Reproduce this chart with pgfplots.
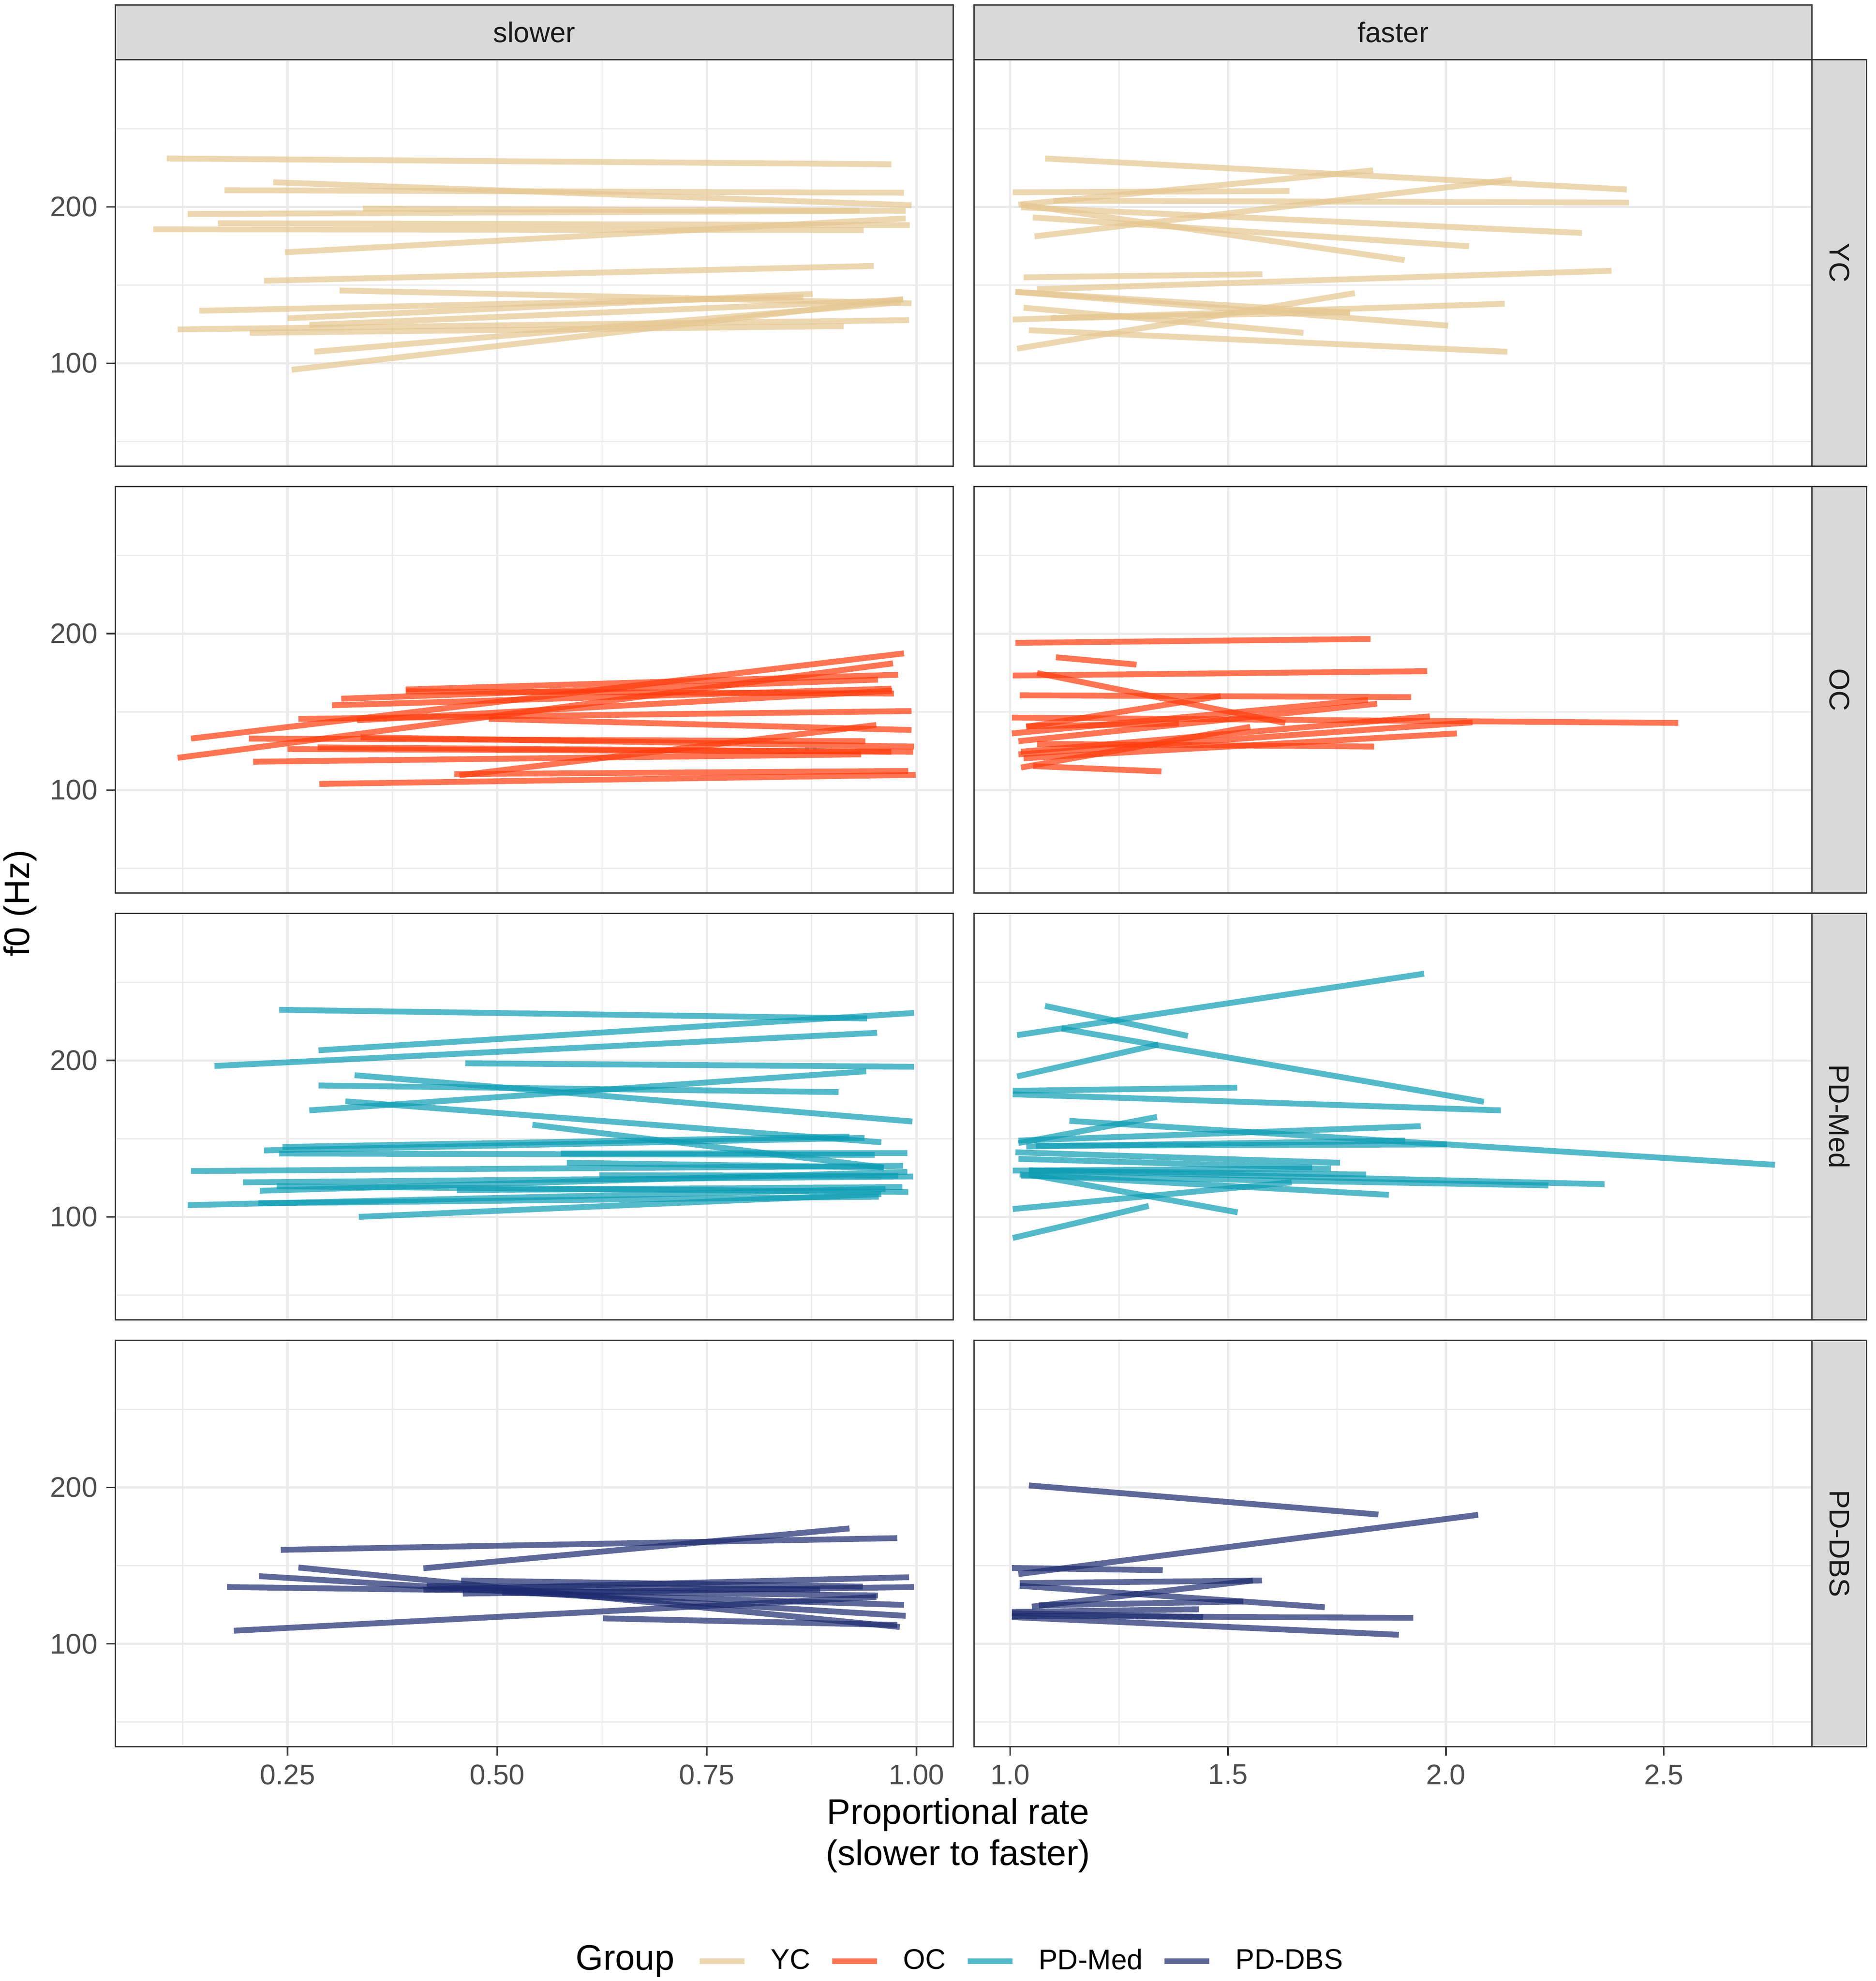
\documentclass[border=0pt]{standalone}
\usepackage{pgfplots}
\pgfplotsset{compat=1.18}
\usepackage{fontspec}
\setmainfont{Liberation Sans}
\definecolor{ycc}{HTML}{E5C690}
\definecolor{occ}{HTML}{FF3A0A}
\definecolor{pmc}{HTML}{0B9CB4}
\definecolor{pdc}{HTML}{1B2A6E}
\definecolor{gridc}{HTML}{EBEBEB}
\definecolor{framec}{HTML}{333333}
\definecolor{stripc}{HTML}{D9D9D9}
\definecolor{tickc}{HTML}{4D4D4D}
\definecolor{stript}{HTML}{1A1A1A}
\newcommand\seg[5]{\addplot[#1] coordinates {(#2,#3) (#4,#5)};}
\pgfplotsset{
  yc/.style={color=ycc, draw opacity=0.7, line width=2.3pt, no marks},
  oc/.style={color=occ, draw opacity=0.7, line width=2.3pt, no marks},
  pm/.style={color=pmc, draw opacity=0.7, line width=2.3pt, no marks},
  pd/.style={color=pdc, draw opacity=0.7, line width=2.3pt, no marks},
  panel/.style={scale only axis, width=330.6pt, height=160.4pt, anchor=south west,
    ymin=34.2, ymax=294.1, ytick={100,200}, minor ytick={50,150,250},
    yticklabels={100,200},
    /pgf/number format/assume math mode=true,
    grid=both,
    major grid style={color=gridc, line width=0.9pt},
    minor grid style={color=gridc, line width=0.45pt},
    axis line style={color=framec, line width=0.6pt},
    tick align=outside, major tick length=3.5pt, minor tick length=0pt,
    tick style={color=framec, line width=0.6pt},
    xtick pos=bottom, ytick pos=left,
    tick label style={font=\fontsize{11.2}{13}\selectfont, text=tickc},
    clip=true},
  leftcol/.style={xmin=0.0447, xmax=1.0438, xtick={0.25,0.5,0.75,1.0},
    minor xtick={0.125,0.375,0.625,0.875}, xticklabels={0.25,0.50,0.75,1.00}},
  rightcol/.style={xmin=0.9172, xmax=2.840, xtick={1,1.5,2,2.5},
    minor xtick={1.25,1.75,2.25,2.75}, xticklabels={1.0,1.5,2.0,2.5}},
  nox/.style={xticklabels={}, xtick style={draw=none}},
  noy/.style={yticklabels={}, ytick style={draw=none}},
}
\begin{document}
\begin{tikzpicture}[x=1pt,y=1pt]
\useasboundingbox (0,0) rectangle (740,781.8);
% ---------------- Row 1: YC
\begin{axis}[panel, leftcol, nox, at={(45.5pt,597.85pt)}]
\seg{yc}{0.106}{230.9}{0.970}{227.2}
\seg{yc}{0.175}{210.6}{0.985}{209.0}
\seg{yc}{0.233}{215.7}{0.994}{201.0}
\seg{yc}{0.131}{195.4}{0.987}{197.5}
\seg{yc}{0.340}{198.8}{0.932}{197.5}
\seg{yc}{0.167}{189.5}{0.992}{188.3}
\seg{yc}{0.090}{185.6}{0.937}{185.1}
\seg{yc}{0.247}{170.9}{0.987}{192.6}
\seg{yc}{0.222}{152.7}{0.949}{162.2}
\seg{yc}{0.312}{146.5}{0.994}{138.3}
\seg{yc}{0.145}{133.5}{0.865}{142.2}
\seg{yc}{0.250}{128.7}{0.876}{144.3}
\seg{yc}{0.119}{121.6}{0.991}{127.5}
\seg{yc}{0.205}{119.4}{0.913}{123.7}
\seg{yc}{0.276}{124.5}{0.984}{140.5}
\seg{yc}{0.282}{107.3}{0.981}{138.9}
\seg{yc}{0.255}{95.8}{0.984}{141.0}
\end{axis}
\begin{axis}[panel, rightcol, nox, noy, at={(384.3pt,597.85pt)}]
\seg{yc}{1.080}{230.9}{2.415}{211.1}
\seg{yc}{1.006}{209.3}{1.641}{210.1}
\seg{yc}{1.099}{203.9}{2.420}{202.7}
\seg{yc}{1.019}{201.4}{1.833}{223.3}
\seg{yc}{1.056}{181.1}{2.151}{217.4}
\seg{yc}{1.025}{199.7}{2.312}{183.3}
\seg{yc}{1.052}{193.2}{2.053}{174.8}
\seg{yc}{1.025}{201.4}{1.905}{165.9}
\seg{yc}{1.031}{154.9}{1.579}{156.9}
\seg{yc}{1.062}{147.3}{2.380}{159.1}
\seg{yc}{1.012}{145.6}{2.005}{124.0}
\seg{yc}{1.031}{135.5}{1.673}{119.4}
\seg{yc}{1.006}{127.9}{2.135}{138.0}
\seg{yc}{1.093}{128.7}{1.780}{132.6}
\seg{yc}{1.043}{121.1}{2.141}{107.3}
\seg{yc}{1.016}{109.3}{1.791}{144.8}
\seg{yc}{1.012}{145.6}{1.780}{132.1}
\end{axis}
% ---------------- Row 2: OC
\begin{axis}[panel, leftcol, nox, at={(45.5pt,429.4pt)}]
\seg{oc}{0.135}{132.9}{0.985}{187.4}
\seg{oc}{0.119}{120.6}{0.972}{181.0}
\seg{oc}{0.391}{164.3}{0.978}{173.7}
\seg{oc}{0.314}{158.4}{0.954}{170.6}
\seg{oc}{0.303}{154.2}{0.970}{164.8}
\seg{oc}{0.391}{163.1}{0.973}{161.7}
\seg{oc}{0.263}{145.5}{0.994}{150.5}
\seg{oc}{0.333}{144.6}{0.971}{163.5}
\seg{oc}{0.490}{145.5}{0.994}{138.4}
\seg{oc}{0.204}{132.9}{0.939}{131.2}
\seg{oc}{0.337}{133.7}{0.997}{127.8}
\seg{oc}{0.250}{126.2}{0.996}{124.5}
\seg{oc}{0.286}{127.3}{0.970}{124.5}
\seg{oc}{0.209}{118.1}{0.934}{122.8}
\seg{oc}{0.455}{109.4}{0.952}{141.6}
\seg{oc}{0.449}{110.2}{0.990}{112.2}
\seg{oc}{0.288}{103.9}{0.999}{109.7}
\end{axis}
\begin{axis}[panel, rightcol, nox, noy, at={(384.3pt,429.4pt)}]
\seg{oc}{1.012}{194.1}{1.827}{196.6}
\seg{oc}{1.105}{184.9}{1.290}{180.2}
\seg{oc}{1.006}{173.2}{1.957}{176.0}
\seg{oc}{1.062}{174.8}{1.631}{142.9}
\seg{oc}{1.022}{160.6}{1.920}{159.4}
\seg{oc}{1.004}{146.3}{2.533}{142.9}
\seg{oc}{1.037}{140.4}{1.483}{160.1}
\seg{oc}{1.004}{136.2}{1.821}{157.7}
\seg{oc}{1.019}{131.2}{1.842}{155.2}
\seg{oc}{1.025}{124.5}{1.963}{147.1}
\seg{oc}{1.019}{122.8}{2.061}{143.3}
\seg{oc}{1.031}{120.3}{2.025}{136.2}
\seg{oc}{1.062}{129.5}{1.835}{127.8}
\seg{oc}{1.025}{114.4}{1.551}{140.4}
\seg{oc}{1.053}{115.3}{1.347}{111.9}
\seg{oc}{1.037}{140.8}{1.387}{142.5}
\end{axis}
% ---------------- Row 3: PD-Med
\begin{axis}[panel, leftcol, nox, at={(45.5pt,260.95pt)}]
\seg{pm}{0.240}{232.4}{0.941}{226.9}
\seg{pm}{0.287}{206.5}{0.997}{230.4}
\seg{pm}{0.163}{196.5}{0.953}{217.7}
\seg{pm}{0.462}{198.2}{0.997}{196.0}
\seg{pm}{0.330}{190.6}{0.995}{161.0}
\seg{pm}{0.287}{184.0}{0.907}{179.8}
\seg{pm}{0.276}{168.1}{0.940}{193.1}
\seg{pm}{0.319}{173.9}{0.958}{147.7}
\seg{pm}{0.542}{158.9}{0.961}{131.6}
\seg{pm}{0.222}{142.5}{0.938}{150.5}
\seg{pm}{0.244}{144.7}{0.920}{151.3}
\seg{pm}{0.240}{140.5}{0.950}{139.6}
\seg{pm}{0.576}{140.5}{0.989}{140.8}
\seg{pm}{0.583}{134.6}{0.961}{131.6}
\seg{pm}{0.135}{129.3}{0.984}{132.6}
\seg{pm}{0.622}{126.6}{0.978}{126.3}
\seg{pm}{0.197}{122.1}{0.996}{125.8}
\seg{pm}{0.217}{116.7}{0.989}{128.8}
\seg{pm}{0.452}{117.1}{0.983}{119.1}
\seg{pm}{0.237}{119.6}{0.990}{115.9}
\seg{pm}{0.131}{107.5}{0.963}{117.9}
\seg{pm}{0.215}{108.7}{0.955}{112.9}
\seg{pm}{0.335}{100.0}{0.958}{114.6}
\end{axis}
\begin{axis}[panel, rightcol, nox, noy, at={(384.3pt,260.95pt)}]
\seg{pm}{1.016}{216.2}{1.950}{255.5}
\seg{pm}{1.080}{234.9}{1.408}{215.7}
\seg{pm}{1.118}{220.4}{2.087}{173.6}
\seg{pm}{1.016}{189.8}{1.340}{210.2}
\seg{pm}{1.006}{180.6}{1.521}{182.6}
\seg{pm}{1.006}{178.4}{2.126}{168.1}
\seg{pm}{1.136}{161.4}{2.755}{133.3}
\seg{pm}{1.019}{147.2}{1.337}{163.9}
\seg{pm}{1.019}{148.8}{1.942}{158.0}
\seg{pm}{1.037}{145.0}{1.906}{148.8}
\seg{pm}{1.059}{145.5}{2.002}{146.3}
\seg{pm}{1.012}{141.3}{1.757}{134.6}
\seg{pm}{1.019}{137.1}{1.693}{131.6}
\seg{pm}{1.006}{129.6}{1.736}{131.0}
\seg{pm}{1.043}{129.6}{1.817}{127.1}
\seg{pm}{1.025}{126.3}{2.235}{120.1}
\seg{pm}{1.043}{129.8}{2.364}{120.9}
\seg{pm}{1.022}{127.1}{1.869}{114.1}
\seg{pm}{1.043}{127.1}{1.522}{102.9}
\seg{pm}{1.006}{105.0}{1.646}{122.1}
\seg{pm}{1.006}{86.5}{1.318}{107.0}
\end{axis}
% ---------------- Row 4: PD-DBS
\begin{axis}[panel, leftcol, at={(45.5pt,92.45pt)}]
\seg{pd}{0.242}{160.1}{0.977}{167.6}
\seg{pd}{0.412}{148.3}{0.920}{173.8}
\seg{pd}{0.263}{148.8}{0.980}{110.8}
\seg{pd}{0.216}{143.3}{0.987}{117.9}
\seg{pd}{0.178}{136.3}{0.954}{130.9}
\seg{pd}{0.412}{134.6}{0.991}{142.6}
\seg{pd}{0.457}{140.5}{0.936}{136.6}
\seg{pd}{0.459}{132.1}{0.997}{136.3}
\seg{pd}{0.506}{132.9}{0.985}{124.9}
\seg{pd}{0.416}{137.1}{0.885}{134.6}
\seg{pd}{0.186}{108.4}{0.952}{129.9}
\seg{pd}{0.626}{116.3}{0.977}{112.1}
\end{axis}
\begin{axis}[panel, rightcol, noy, at={(384.3pt,92.45pt)}]
\seg{pd}{1.043}{201.3}{1.845}{182.7}
\seg{pd}{1.019}{144.6}{2.074}{182.5}
\seg{pd}{1.004}{148.5}{1.350}{147.1}
\seg{pd}{1.022}{138.8}{1.578}{140.5}
\seg{pd}{1.022}{137.1}{1.722}{123.4}
\seg{pd}{1.050}{123.8}{1.557}{140.5}
\seg{pd}{1.066}{124.6}{1.535}{127.1}
\seg{pd}{1.004}{120.4}{1.433}{122.1}
\seg{pd}{1.004}{117.9}{1.925}{116.6}
\seg{pd}{1.004}{117.1}{1.892}{105.8}
\seg{pd}{1.004}{119.6}{1.443}{117.1}
\end{axis}
% ---------------- Legend (hidden axis)
\begin{axis}[scale only axis, width=740pt, height=781.8pt, at={(0pt,0pt)}, anchor=south west,
  hide axis, xmin=0, xmax=1, ymin=0, ymax=1,
  legend style={draw=none, fill=none, inner sep=0pt, outer sep=0pt,
    at={(0.37162,0.009977)}, anchor=west, legend columns=-1,
    font=\fontsize{11.2}{13}\selectfont,
    nodes={inner sep=0pt},
    /tikz/every odd column/.append style={column sep=9.2pt},
    /tikz/every even column/.append style={column sep=7.5pt}},
  legend image code/.code={\draw[#1] (0pt,0pt) -- (17.65pt,0pt);}]
\addlegendimage{yc}\addlegendentry{YC}
\addlegendimage{oc}\addlegendentry{OC}
\addlegendimage{pm}\addlegendentry{PD-Med}
\addlegendimage{pd}\addlegendentry{PD-DBS}
\end{axis}
% ---------------- Strips and titles
\tikzset{strip/.style={fill=stripc, draw=framec, line width=0.6pt}}
\draw[strip] (45.5,758.2) rectangle (376.1,779.85);
\draw[strip] (384.3,758.2) rectangle (714.9,779.85);
\node[font=\fontsize{11.2}{13}\selectfont, text=stript] at (210.8,769.0) {slower};
\node[font=\fontsize{11.2}{13}\selectfont, text=stript] at (549.6,769.0) {faster};
\draw[strip] (714.9,597.85) rectangle (736.5,758.25);
\draw[strip] (714.9,429.4) rectangle (736.5,589.8);
\draw[strip] (714.9,260.95) rectangle (736.5,421.35);
\draw[strip] (714.9,92.45) rectangle (736.5,252.85);
\node[rotate=-90, font=\fontsize{11.2}{13}\selectfont, text=stript] at (725.7,678.05) {YC};
\node[rotate=-90, font=\fontsize{11.2}{13}\selectfont, text=stript] at (725.7,509.6) {OC};
\node[rotate=-90, font=\fontsize{11.2}{13}\selectfont, text=stript] at (725.7,341.15) {PD-Med};
\node[rotate=-90, font=\fontsize{11.2}{13}\selectfont, text=stript] at (725.7,172.65) {PD-DBS};
\node[rotate=90, font=\fontsize{14}{16}\selectfont] at (8,425.3) {f0 (Hz)};
\node[align=center, font=\fontsize{14}{16.2}\selectfont] at (378,57.4) {Proportional rate\\(slower to faster)};
\node[anchor=west, inner sep=0pt, font=\fontsize{14}{16}\selectfont] at (227,7.8) {Group};
\end{tikzpicture}
\end{document}
